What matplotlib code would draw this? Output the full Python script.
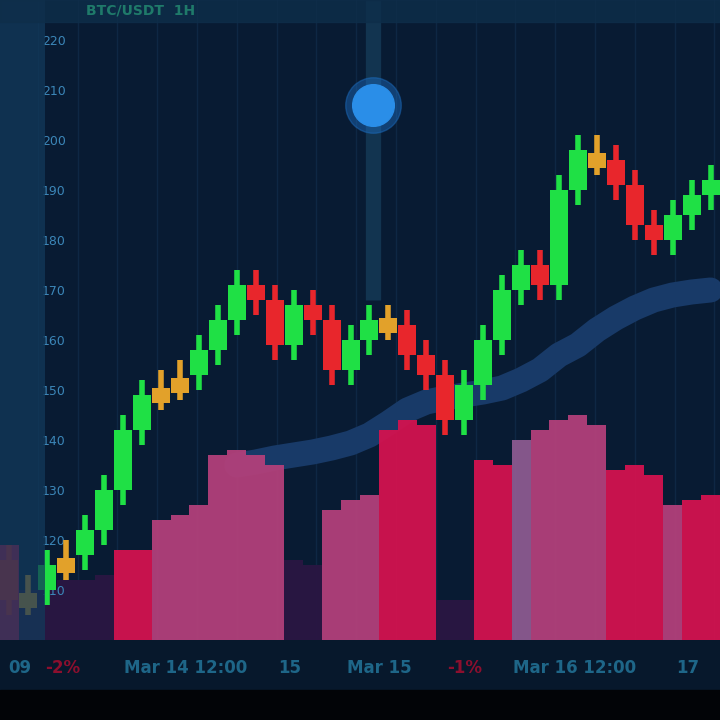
import matplotlib
matplotlib.use("Agg")
import matplotlib.pyplot as plt
from matplotlib.patches import Rectangle
import numpy as np

# ---- data ----
first_open = 116
closes = [108, 110, 115, 117, 122, 130, 142, 149, 151, 153, 158, 164, 171, 168, 159,
          167, 164, 154, 160, 164, 163, 157, 153, 144, 151, 160, 170, 175, 171, 190,
          198, 196, 191, 183, 180, 185, 189, 192]
ma_start = 12
ma_values = [135, 135.6, 136.4, 137, 137.6, 138.4, 139.4, 141, 143.4, 146,
             147.6, 148.4, 149, 149.6, 150.4, 152, 154, 157, 159, 162, 164.4, 166.4,
             168, 169, 169.6, 170]
volumes = [14.8, 7.8, 7.8, 9.4, 9.4, 10.2, 14.1, 14.1, 18.8, 19.5, 21.1, 28.9, 29.7,
           28.9, 27.3, 12.5, 11.7, 20.3, 21.9, 22.7, 32.8, 34.4, 33.6, 6.3, 6.3, 28.1,
           27.3, 31.3, 32.8, 34.4, 35.2, 33.6, 26.6, 27.3, 25.8, 21.1, 21.9, 22.7]
vol_kind = ["c", "d", "d", "d", "d", "d", "c", "c", "p", "p", "p", "p", "p", "p", "p",
            "d", "d", "p", "p", "p", "c", "c", "c", "d", "d", "c", "c", "l", "p", "p",
            "p", "p", "c", "c", "c", "p", "c", "c"]
marker_index = 19.2
marker_price = 207
price_ticks = [110, 120, 130, 140, 150, 160, 170, 180, 190, 200, 210, 220]
x_labels = ["09", "-2%", "Mar 14 12:00", "15", "Mar 15", "-1%", "Mar 16 12:00", "17"]
x_label_pos = [0.55, 2.8, 9.3, 14.8, 19.5, 24.0, 29.8, 35.8]
x_label_red = [False, True, False, False, False, True, False, False]

# ---- figure ----
fig = plt.figure(figsize=(7.2, 7.2), dpi=100, facecolor="#07182c")
fig.patches.append(Rectangle((0, 0), 1, 30 / 720, transform=fig.transFigure,
                             color="#020407", zorder=0))

ax = fig.add_axes([0, 80 / 720, 1, 640 / 720])
n = len(closes)
x = np.arange(n)
ax.set_xlim(-0.5, n - 0.5)
ax.set_ylim(100, 228)

# volume on twin axis (drawn underneath the price axis)
axv = ax.twinx()
axv.set_ylim(0, 100)
axv.set_yticks([])
for s in axv.spines.values():
    s.set_visible(False)
ax.set_zorder(axv.get_zorder() + 1)
ax.patch.set_visible(False)
axv.patch.set_visible(True)
axv.patch.set_facecolor("#081b33")

# grid
for gx in np.arange(1.5, n, 2.1):
    axv.axvline(gx, color="#0e2744", lw=1.0, zorder=0.5)

# vertical marker line (behind)
axv.plot([marker_index, marker_index], [168, 228], color="#123450", lw=11,
         solid_capstyle="butt", zorder=1, transform=ax.transData)

# moving average, behind the volume bars
ma_x = np.arange(ma_start, ma_start + len(ma_values))
axv.plot(ma_x, ma_values, color="#183a68", lw=18, solid_capstyle="round", zorder=1.5,
         transform=ax.transData)

vcolors = {"c": "#d3124f", "p": "#b2407a", "d": "#2a1642", "l": "#8c5a90"}
axv.bar(x, volumes, width=1.0, color=[vcolors[k] for k in vol_kind], zorder=2,
        alpha=0.95, linewidth=0)

# dot
ax.plot([marker_index], [marker_price], "o", ms=40, color="#1c6fc4", alpha=0.45, zorder=2)
ax.plot([marker_index], [marker_price], "o", ms=30, color="#2a8ee8", zorder=3)

# candles
opens = [first_open] + closes[:-1]
for i, (o, c) in enumerate(zip(opens, closes)):
    d = c - o
    if abs(d) <= 2.5:
        col = "#e2a12a"
    elif d > 0:
        col = "#1fe045"
    else:
        col = "#e8262c"
    lo, hi = min(o, c), max(o, c)
    ax.plot([i, i], [lo - 3, hi + 3], color=col, lw=4, zorder=4,
            solid_capstyle="butt")
    ax.bar(i, max(hi - lo, 3), bottom=lo - (1.5 if hi - lo < 3 else 0), width=0.95,
           color=col, zorder=5, linewidth=0)

# left axis strip
ax.add_patch(Rectangle((0, 0), 45 / 720, 1, transform=ax.transAxes,
                       color="#12395a", alpha=0.75, zorder=6, linewidth=0))
ax.set_yticks(price_ticks)
ax.set_yticklabels([str(t) for t in price_ticks])
ax.tick_params(axis="y", direction="in", pad=-30, labelsize=9, colors="#3b86b8",
               length=0)
for lab in ax.get_yticklabels():
    lab.set_horizontalalignment("left")
    lab.set_zorder(7)

# top strip
fig.patches.append(Rectangle((0, 698 / 720), 1, 22 / 720, transform=fig.transFigure,
                             color="#0e2e4a", alpha=0.8, zorder=10))
fig.text(0.12, 709 / 720, "BTC/USDT  1H", color="#1f7a6a", fontsize=10,
         fontweight="bold", va="center", zorder=11)

# x labels
ax.set_xticks(x_label_pos)
ax.set_xticklabels(x_labels)
ax.tick_params(axis="x", length=0, pad=14, labelsize=12)
for lab, red in zip(ax.get_xticklabels(), x_label_red):
    lab.set_color("#8c0f2e" if red else "#1e6688")
    lab.set_fontweight("bold")

for s in ax.spines.values():
    s.set_visible(False)

fig.savefig("out.png", dpi=100, facecolor=fig.get_facecolor())
